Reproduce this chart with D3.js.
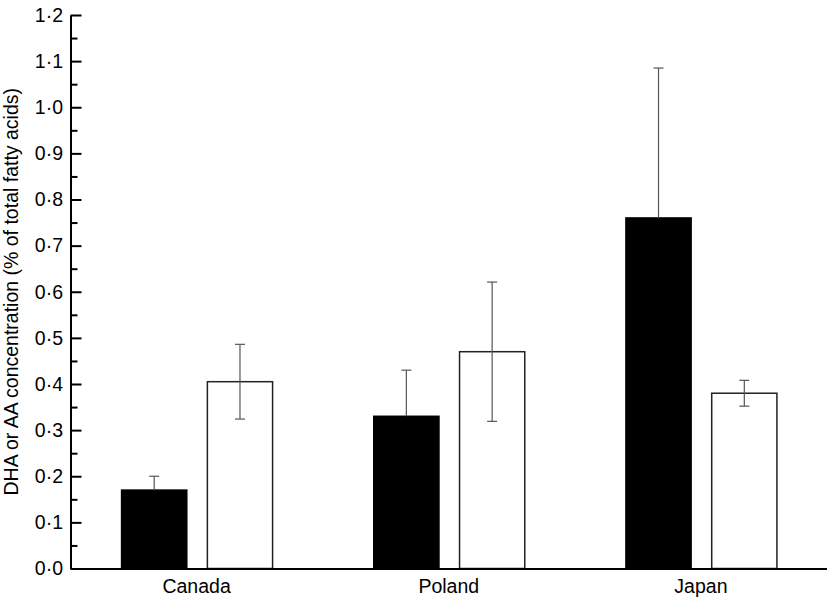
<!DOCTYPE html>
<html><head><meta charset="utf-8">
<script src="https://cdn.jsdelivr.net/npm/d3@7"></script>
<style>body{margin:0;background:#fff;} svg{display:block;}</style>
</head><body>
<svg id="c" width="827" height="597"></svg>
<script>
const categories = ["Canada", "Poland", "Japan"];
const seriesNames = ["DHA", "AA"];
const dhaValues = [0.17, 0.33, 0.76];
const dhaErrors = [0.03, 0.10, 0.325];
const aaValues = [0.405, 0.47, 0.38];
const aaErrors = [0.081, 0.151, 0.028];
const yTicks = [0, 0.1, 0.2, 0.3, 0.4, 0.5, 0.6, 0.7, 0.8, 0.9, 1.0, 1.1, 1.2];
const yMinorTicks = [0.05, 0.15, 0.25, 0.35, 0.45, 0.55, 0.65, 0.75, 0.85, 0.95, 1.05, 1.15];

(function () {
const svg = d3.select("#c");
const font = "'Liberation Sans', Arial, sans-serif";
const fs = 19.5;
const mLeft = 70.5, mRight = 827, mTop = 15, mBottom = 568.5;

const x = d3.scaleBand().domain(categories).range([mLeft, mRight]).padding(0);
const y = d3.scaleLinear().domain([0, 1.2]).range([mBottom, mTop]);
const sub = d3.scaleBand().domain(seriesNames).range([-75, 76]).paddingInner(0.24);

const fmt = d => d.toFixed(1).replace(".", "·");

const series = [
  {name: "DHA", values: dhaValues, errors: dhaErrors, fill: "#000", both: false},
  {name: "AA", values: aaValues, errors: aaErrors, fill: "#fff", both: true}
];

series.forEach(s => {
  const g = svg.append("g");
  g.selectAll("rect").data(categories).join("rect")
    .attr("x", c => x(c) + x.bandwidth() / 2 + sub(s.name))
    .attr("width", sub.bandwidth())
    .attr("y", (c, i) => y(s.values[i]))
    .attr("height", (c, i) => y(0) - y(s.values[i]))
    .attr("fill", s.fill)
    .attr("stroke", s.fill === "#000" ? "#000" : "#222")
    .attr("stroke-width", 1.5);
  const e = svg.append("g").attr("stroke", "#555").attr("stroke-width", 1.2);
  categories.forEach((c, i) => {
    const cx = x(c) + x.bandwidth() / 2 + sub(s.name) + sub.bandwidth() / 2;
    const hi = s.values[i] + s.errors[i];
    const lo = s.both ? s.values[i] - s.errors[i] : s.values[i];
    e.append("line").attr("x1", cx).attr("x2", cx).attr("y1", y(hi)).attr("y2", y(lo));
    e.append("line").attr("x1", cx - 5).attr("x2", cx + 5).attr("y1", y(hi)).attr("y2", y(hi));
    if (s.both) e.append("line").attr("x1", cx - 5).attr("x2", cx + 5).attr("y1", y(lo)).attr("y2", y(lo));
  });
});

const yAxis = d3.axisRight(y).tickValues(yTicks).tickSize(11).tickFormat(fmt).tickSizeOuter(0);
const ya = svg.append("g").attr("transform", `translate(${mLeft},0)`).call(yAxis);
ya.select(".domain").attr("stroke", "#000").attr("stroke-width", 2);
ya.selectAll(".tick line").attr("stroke", "#000").attr("stroke-width", 2);
ya.selectAll(".tick text").attr("x", -7.5).attr("text-anchor", "end")
  .attr("font-family", font).attr("font-size", fs).attr("fill", "#000");
const yMinor = d3.axisRight(y).tickValues(yMinorTicks).tickSize(7).tickFormat("").tickSizeOuter(0);
const ym = svg.append("g").attr("transform", `translate(${mLeft},0)`).call(yMinor);
ym.select(".domain").remove();
ym.selectAll(".tick line").attr("stroke", "#000").attr("stroke-width", 2);

const xAxis = d3.axisBottom(x).tickSize(0).tickSizeOuter(0);
const xa = svg.append("g").attr("transform", `translate(0,${mBottom})`).call(xAxis);
xa.select(".domain").attr("stroke", "#000").attr("stroke-width", 2);
xa.selectAll(".tick text").attr("dy", 0).attr("y", 24.5)
  .attr("font-family", font).attr("font-size", fs).attr("fill", "#000");

svg.append("text")
  .attr("transform", `translate(18,${(mTop + mBottom) / 2}) rotate(-90)`)
  .attr("text-anchor", "middle")
  .attr("font-family", font).attr("font-size", fs).attr("fill", "#000")
  .text("DHA or AA concentration (% of total fatty acids)");
})();
</script>
</body></html>
